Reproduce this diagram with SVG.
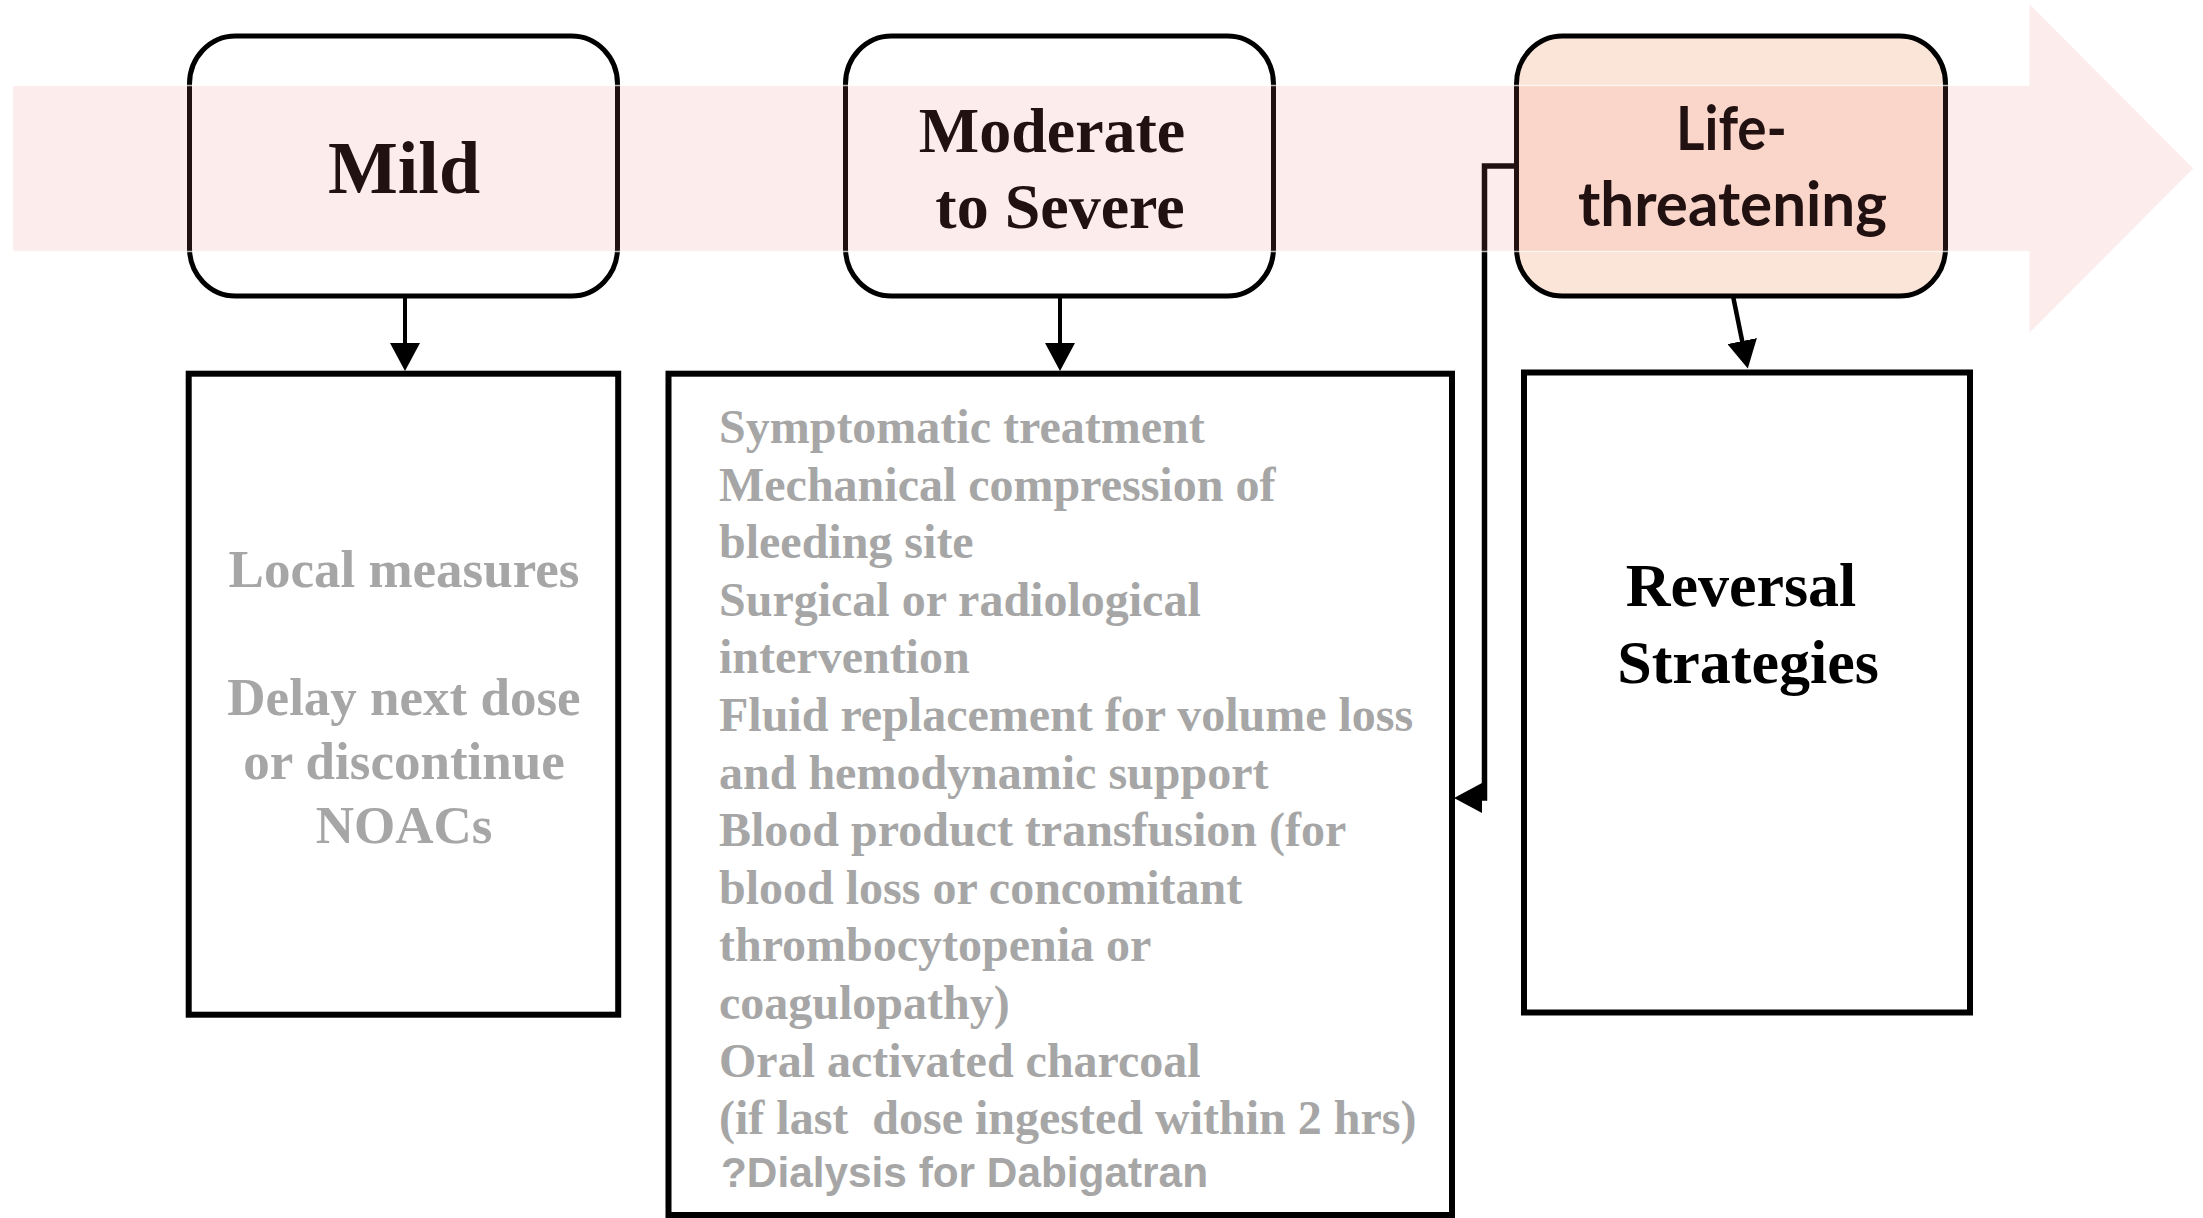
<svg xmlns="http://www.w3.org/2000/svg" width="2203" height="1218" viewBox="0 0 2203 1218">
<defs>
<style>
.hbox{fill:#ffffff;stroke:#000;stroke-width:5}
.box{fill:#ffffff;stroke:#000;stroke-width:6}
.conn{fill:none;stroke:#000;stroke-width:5}
.ser{font-family:"Liberation Serif","Times New Roman",serif;font-weight:bold}
.head{fill:#000}
.gray{fill:#a6a6a6}
.mid{text-anchor:middle}
</style>
<marker id="ah" markerUnits="userSpaceOnUse" viewBox="0 0 28 30" refX="5" refY="15" markerWidth="28" markerHeight="30" orient="auto">
<path d="M0,0 L28,15 L0,30 Z" fill="#000"/>
</marker>
</defs>
<rect width="2203" height="1218" fill="#fff"/>

<g id="mild">
<rect class="hbox" x="189.5" y="36" width="428" height="260" rx="46" ry="48"/>
<text class="ser head mid" x="404" y="193" font-size="74">Mild</text>
</g>
<g id="moderate">
<rect class="hbox" x="845.5" y="36" width="428" height="260" rx="46" ry="48"/>
<text class="ser head mid" x="1052" y="152" font-size="64">Moderate</text>
<text class="ser head mid" x="1060" y="228" font-size="64">to Severe</text>
</g>
<g id="life">
<rect class="hbox" x="1516.5" y="36" width="429" height="260" rx="46" ry="48" style="fill:#fbe5d8"/>
<text x="1731.5" y="150" font-family="Lato,'Open Sans',sans-serif" font-weight="bold" font-size="62" text-anchor="middle" textLength="111" lengthAdjust="spacingAndGlyphs" fill="#000">Life-</text>
<text x="1732.5" y="226" font-family="Lato,'Open Sans',sans-serif" font-weight="bold" font-size="62" text-anchor="middle" textLength="309" lengthAdjust="spacingAndGlyphs" fill="#000">threatening</text>
</g>

<g id="mild-detail">
<rect class="box" x="188.7" y="373.7" width="429.5" height="641"/>
<text class="ser gray mid" font-size="53" x="404" y="587">Local measures</text>
<text class="ser gray mid" font-size="53" x="404" y="715">Delay next dose</text>
<text class="ser gray mid" font-size="53" x="404" y="779">or discontinue</text>
<text class="ser gray mid" font-size="53" x="404" y="843">NOACs</text>
</g>

<g id="moderate-detail">
<rect class="box" x="668.5" y="373.7" width="783.5" height="841.3"/>
<g class="ser gray" font-size="48">
<text x="719" y="443">Symptomatic treatment</text>
<text x="719" y="500.6">Mechanical compression of</text>
<text x="719" y="558.2">bleeding site</text>
<text x="719" y="615.8">Surgical or radiological</text>
<text x="719" y="673.4">intervention</text>
<text x="719" y="731">Fluid replacement for volume loss</text>
<text x="719" y="788.6">and hemodynamic support</text>
<text x="719" y="846.2">Blood product transfusion (for</text>
<text x="719" y="903.8">blood loss or concomitant</text>
<text x="719" y="961.4">thrombocytopenia or</text>
<text x="719" y="1019">coagulopathy)</text>
<text x="719" y="1076.6">Oral activated charcoal</text>
<text x="719" y="1134.2">(if last&#160; dose ingested within 2 hrs)</text>
</g>
<text x="721" y="1187" font-family="'Liberation Sans',Arial,sans-serif" font-weight="bold" font-size="43" fill="#a6a6a6" textLength="487" lengthAdjust="spacingAndGlyphs">?Dialysis for Dabigatran</text>
</g>

<g id="reversal">
<rect class="box" x="1524" y="372.5" width="446" height="640"/>
<text class="ser head mid" font-size="62" x="1741" y="606">Reversal</text>
<text class="ser head mid" font-size="62" x="1748" y="683">Strategies</text>
</g>

<g id="connectors">
<path class="conn" style="stroke-width:4" d="M405,296 V348" marker-end="url(#ah)"/>
<path class="conn" style="stroke-width:4" d="M1060,296 V348" marker-end="url(#ah)"/>
<path class="conn" style="stroke-width:4.5" d="M1733,296 L1743.2,346" marker-end="url(#ah)"/>
<path class="conn" style="stroke-width:5.5" d="M1516,166 H1484.5 V798 H1477" marker-end="url(#ah)"/>
</g>

<g id="band">
<polygon points="12.5,85.5 2029,85.5 2029,3 2194,168.5 2029,334 2029,251.5 12.5,251.5" fill="rgb(240,119,119)" fill-opacity="0.14" stroke="#ffffff" stroke-opacity="0.7" stroke-width="1.5"/>
</g>
</svg>
